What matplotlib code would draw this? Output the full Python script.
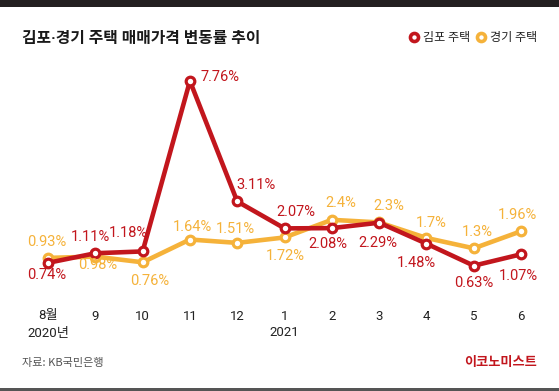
import matplotlib
matplotlib.use("Agg")
import matplotlib.pyplot as plt
from matplotlib.lines import Line2D
from matplotlib.patches import Rectangle
import matplotlib.transforms as mtransforms

plt.rcParams['font.family'] = ['Roboto', 'Noto Sans CJK KR', 'DejaVu Sans']

months = ['8월', '9', '10', '11', '12', '1', '2', '3', '4', '5', '6']
years = {0: '2020년', 5: '2021'}
gimpo = [0.74, 1.11, 1.18, 7.76, 3.11, 2.07, 2.08, 2.29, 1.48, 0.63, 1.07]
gyeonggi = [0.93, 0.98, 0.76, 1.64, 1.51, 1.72, 2.4, 2.3, 1.7, 1.3, 1.96]
gimpo_labels = ['0.74%', '1.11%', '1.18%', '7.76%', '3.11%', '2.07%', '2.08%', '2.29%', '1.48%', '0.63%', '1.07%']
gyeonggi_labels = ['0.93%', '0.98%', '0.76%', '1.64%', '1.51%', '1.72%', '2.4%', '2.3%', '1.7%', '1.3%', '1.96%']

RED = '#c2161d'
YEL = '#f5b23a'

# label offsets in pixels (dx, dy up-positive), layout only
red_off = [(-1, -12), (-5, 16), (-14, 18), (30, 4), (19, 16), (11, 16), (-4, -16), (-1, -20), (-10, -19), (0, -17), (-3, -22)]
yel_off = [(-1, 16), (2, -8), (7, -19), (3, 13), (-2, 14), (1, -19), (9, 17), (10, 16), (5, 15), (4, 16), (-4, 16)]

W, H = 559, 391
fig = plt.figure(figsize=(W / 100, H / 100), dpi=100)
fig.patch.set_facecolor('white')

# axes placement: pixel y 60..290, x 20..549
ax = fig.add_axes([20 / W, (H - 290) / H, 529 / W, 230 / H])
ax.set_xlim(-0.592, 10.59)
ax.set_ylim(-0.309, 8.571)
ax.axis('off')

x = list(range(len(months)))
ax.plot(x, gyeonggi, color=YEL, lw=3.3, marker='o', ms=6.2, mfc='white', mec=YEL, mew=2.3,
        solid_joinstyle='round', zorder=3)
ax.plot(x, gimpo, color=RED, lw=3.3, marker='o', ms=6.2, mfc='white', mec=RED, mew=2.3,
        solid_joinstyle='round', zorder=4)

px2pt = 0.72
for i in x:
    dx, dy = red_off[i]
    ax.annotate(gimpo_labels[i], (i, gimpo[i]), xytext=(dx * px2pt, dy * px2pt),
                textcoords='offset points', ha='center', va='center', color=RED, fontsize=10.5, zorder=6)
    dx, dy = yel_off[i]
    ax.annotate(gyeonggi_labels[i], (i, gyeonggi[i]), xytext=(dx * px2pt, dy * px2pt),
                textcoords='offset points', ha='center', va='center', color=YEL, fontsize=10.5, zorder=6)

trans = mtransforms.blended_transform_factory(ax.transData, fig.transFigure)
for i, m in enumerate(months):
    ax.text(i, 1 - 316 / H, m, transform=trans, ha='center', va='center', fontsize=9.5, color='#222222')
for i, yv in years.items():
    ax.text(i, 1 - 333 / H, yv, transform=trans, ha='center', va='center', fontsize=9.5, color='#222222')

# title
fig.text(22 / W, 1 - 38 / H, '김포·경기 주택 매매가격 변동률 추이', ha='left', va='center',
         fontsize=11.4, fontweight='bold', color='#1a1a1a', family=['Roboto', 'Noto Sans CJK KR'])

# legend
fig.add_artist(Line2D([414 / W], [1 - 37 / H], transform=fig.transFigure, marker='o', ms=5.8,
                      mfc='white', mec=RED, mew=2.6, ls='none'))
fig.text(423 / W, 1 - 37 / H, '김포 주택', ha='left', va='center', fontsize=8.7, color='#222222',
         family=['Noto Sans CJK KR'])
fig.add_artist(Line2D([481 / W], [1 - 37 / H], transform=fig.transFigure, marker='o', ms=5.8,
                      mfc='white', mec=YEL, mew=2.6, ls='none'))
fig.text(490 / W, 1 - 37 / H, '경기 주택', ha='left', va='center', fontsize=8.7, color='#222222',
         family=['Noto Sans CJK KR'])

# source and logo
fig.text(22 / W, 1 - 363 / H, '자료: KB국민은행', ha='left', va='center', fontsize=8, color='#555555',
         family=['Noto Sans CJK KR', 'Roboto'])
fig.text(537 / W, 1 - 362 / H, '이코노미스트', ha='right', va='center', fontsize=9.5, fontweight='bold',
         color=RED, family=['Noto Sans CJK KR'])

# top bar and bottom rule
fig.add_artist(Rectangle((0, 1 - 7 / H), 1, 7 / H, transform=fig.transFigure, color='#231f20', lw=0))
fig.add_artist(Rectangle((0, 0), 1, 3 / H, transform=fig.transFigure, color='#555555', lw=0))

fig.savefig('out.png', dpi=100, facecolor='white')
